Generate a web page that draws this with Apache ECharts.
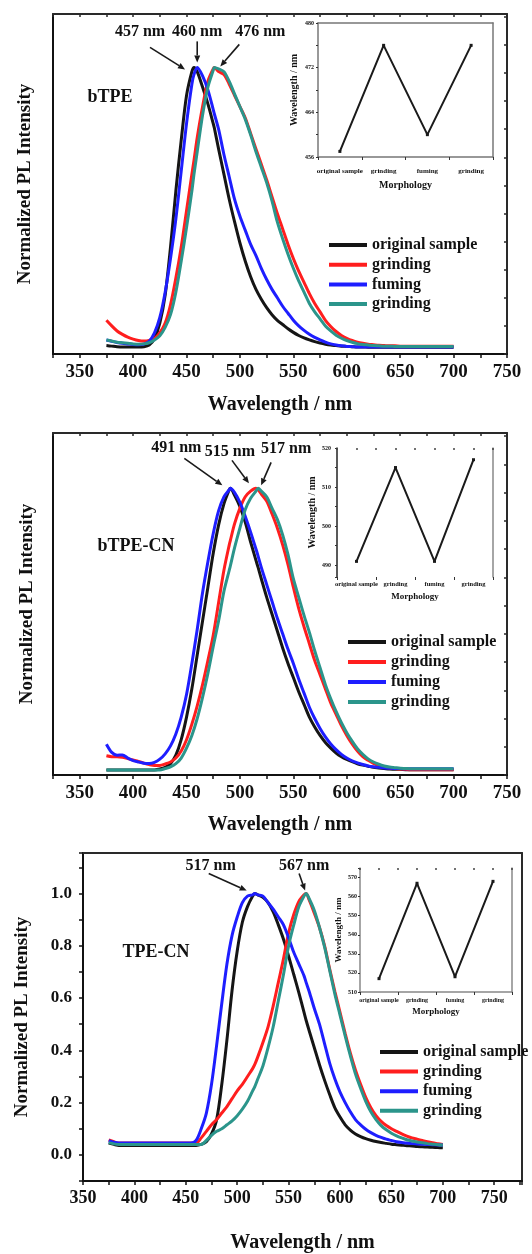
<!DOCTYPE html>
<html>
<head>
<meta charset="utf-8">
<script src="https://cdn.jsdelivr.net/npm/echarts@6/dist/echarts.min.js"></script>
<style>
  html, body { margin: 0; padding: 0; background: #fff; }
  #chart { width: 532px; height: 1254px; }
</style>
</head>
<body>
<div id="chart"></div>
<script>
// ---- Emission spectra (normalized PL intensity) ----
// Wavelength samples (nm); each panel also samples its emission maxima.
const wl1 = [375,380,385,390,395,400,405,410,415,420,425,430,435,440,445,450,455,457,460,465,470,475,476,480,485,490,495,500,505,510,515,520,525,530,535,540,545,550,555,560,565,570,575,580,585,590,595,600,605,610,615,620,625,630,635,640,645,650,655,660,665,670,675,680,685,690,695,700];
const wl2 = [375,380,385,390,395,400,405,410,415,420,425,430,435,440,445,450,455,460,465,470,475,480,485,490,491,495,500,505,510,515,517,520,525,530,535,540,545,550,555,560,565,570,575,580,585,590,595,600,605,610,615,620,625,630,635,640,645,650,655,660,665,670,675,680,685,690,695,700];
const wl3 = [375,380,385,390,395,400,405,410,415,420,425,430,435,440,445,450,455,460,465,470,475,480,485,490,495,500,505,510,515,517,520,525,530,535,540,545,550,555,560,565,567,570,575,580,585,590,595,600,605,610,615,620,625,630,635,640,645,650,655,660,665,670,675,680,685,690,695,700];

// bTPE
const bTPE_original = [.010,.008,.006,.005,.005,.005,.005,.006,.012,.035,.09,.19,.36,.56,.74,.90,.985,
  1.0, .985,.93,.87,.80, .785,
  .71,.62,.53,.45,.375,.31,.255,.21,.175,.145,.12,.10,.085,.07,.057,.046,.037,.030,.024,.019,.015,.012,.010,.008,.007,.006,.005,.005,.004,
  .004,.004,.004,.004,.004,.004,.004,.004,.004,.004,.004,.004,.004,.004,.004,.004];
const bTPE_grinding = [.10,.08,.062,.05,.04,.033,.028,.026,.028,.035,.055,.09,.155,.25,.36,.49,.62,
  .67, .75,.86,.95,.995, 1.0,
  .985,.975,.94,.90,.86,.82,.765,.71,.655,.60,.54,.48,.425,.37,.32,.275,.235,.195,.16,.13,.10,.078,.06,.046,.036,.028,.022,.018,.015,
  .013,.011,.010,.009,.009,.008,.008,.008,.008,.008,.008,.008,.008,.008,.008,.008];
const bTPE_fuming = [.030,.025,.021,.018,.016,.014,.013,.015,.025,.055,.11,.20,.32,.46,.63,.80,.94,
  .975, 1.0,.97,.92,.85, .835,
  .78,.69,.61,.53,.47,.42,.37,.33,.285,.245,.21,.18,.15,.125,.10,.08,.064,.05,.039,.03,.022,.016,.012,.009,.007,.006,.005,.005,.005,
  .005,.005,.005,.005,.005,.005,.005,.005,.005,.005,.005,.005,.005,.005,.005,.005];
const bTPE_regrinding = [.030,.026,.022,.020,.018,.016,.015,.016,.020,.030,.045,.075,.12,.20,.31,.43,.56,
  .62, .70,.83,.93,.99, 1.0,
  .995,.985,.95,.905,.86,.815,.76,.70,.645,.59,.525,.45,.39,.335,.285,.24,.20,.16,.13,.105,.08,.062,.047,.036,.028,.022,.017,.014,.012,
  .010,.009,.008,.008,.007,.007,.007,.007,.007,.007,.007,.007,.007,.007,.007,.007];

// bTPE-CN
const bTPECN_original = [.003,.003,.003,.003,.003,.003,.003,.003,.003,.003,.006,.012,.025,.055,.11,.19,.29,.41,.53,.65,.77,.87,.945,.995,
  1.0, .975,.935,.88,.81,.745, .72,
  .68,.615,.555,.495,.435,.38,.33,.28,.235,.19,.155,.125,.10,.08,.063,.05,.04,.032,.025,.02,.016,.012,.01,.008,.006,.005,.005,
  .004,.004,.004,.004,.004,.004,.004,.004,.004,.004];
const bTPECN_grinding = [.053,.05,.05,.048,.043,.038,.033,.027,.022,.019,.019,.024,.031,.045,.07,.11,.165,.23,.305,.39,.48,.595,.71,.80,
  .815, .875,.93,.97,.99,1.0, .995,
  .98,.955,.91,.86,.80,.73,.65,.575,.51,.45,.39,.34,.29,.24,.20,.16,.125,.095,.07,.05,.037,.026,.018,.013,.01,.008,.006,
  .005,.004,.004,.004,.004,.004,.004,.004,.004,.004];
const bTPECN_fuming = [.094,.065,.055,.056,.045,.036,.031,.027,.026,.03,.041,.06,.088,.13,.19,.27,.38,.50,.63,.74,.84,.92,.97,.995,
  1.0, .985,.95,.90,.845,.785, .76,
  .72,.66,.60,.54,.485,.43,.38,.325,.275,.225,.185,.15,.12,.095,.075,.058,.045,.035,.028,.022,.017,.014,.012,.01,.009,.008,.008,
  .007,.007,.007,.007,.007,.007,.007,.007,.007,.007];
const bTPECN_regrinding = [.003,.003,.003,.003,.003,.003,.003,.003,.003,.003,.003,.008,.014,.025,.045,.08,.125,.185,.26,.345,.44,.53,.635,.71,
  .725, .79,.86,.925,.965,.99, 1.0,
  .99,.97,.93,.89,.835,.765,.68,.615,.55,.49,.425,.365,.305,.255,.21,.17,.135,.105,.078,.058,.042,.031,.023,.017,.013,.011,.009,
  .008,.007,.007,.007,.007,.007,.007,.007,.007,.007];

// TPE-CN
const TPECN_original = [.045,.04,.036,.036,.036,.036,.036,.036,.036,.036,.036,.036,.036,.036,.036,.036,.036,.036,.04,.05,.08,.135,.27,.44,.63,.78,.89,.95,.99,
  1.0,
  .995,.985,.965,.93,.88,.825,.76,.69,.62,.545,
  .515,
  .475,.41,.345,.285,.23,.18,.145,.115,.095,.08,.07,.062,.056,.051,.047,.044,.041,.039,.037,.035,.034,.032,.031,.030,.029,.028,.027];
const TPECN_grinding = [.057,.05,.045,.045,.045,.045,.045,.045,.045,.045,.045,.045,.045,.045,.045,.045,.045,.045,.065,.09,.115,.135,.16,.185,.215,.245,.27,.30,.33,
  .345,
  .375,.43,.49,.57,.66,.75,.85,.92,.97,.995,
  1.0,
  .975,.925,.87,.80,.71,.625,.545,.465,.39,.325,.27,.22,.18,.15,.128,.112,.10,.09,.08,.072,.065,.06,.055,.05,.046,.043,.04];
const TPECN_fuming = [.054,.048,.045,.045,.045,.045,.045,.045,.045,.045,.045,.045,.045,.045,.045,.045,.045,.055,.10,.16,.27,.42,.58,.73,.84,.91,.965,.99,.995,
  1.0,
  .995,.99,.965,.94,.91,.88,.83,.775,.73,.685,
  .66,
  .625,.56,.50,.425,.35,.29,.24,.20,.165,.135,.115,.098,.085,.075,.067,.06,.055,.05,.047,.045,.043,.042,.041,.040,.039,.038,.038];
const TPECN_regrinding = [.047,.042,.04,.04,.04,.04,.04,.04,.04,.04,.04,.04,.04,.04,.04,.04,.04,.04,.04,.055,.075,.09,.10,.115,.13,.15,.175,.205,.245,
  .26,
  .29,.34,.41,.49,.59,.69,.80,.88,.95,.99,
  1.0,
  .98,.935,.87,.795,.705,.615,.535,.455,.38,.31,.255,.205,.165,.135,.112,.096,.083,.073,.065,.058,.053,.049,.046,.043,.041,.039,.038];

// Emission maxima (nm) marked on each panel
const peaks1 = [457, 460, 476];
const peaks2 = [491, 515, 517];
const peaks3 = [517, 567];

// Inset: emission maximum vs. morphology
const morphology = ['original sample', 'grinding', 'fuming', 'grinding'];
const inset1 = [457, 476, 460, 476];
const inset2 = [491, 515, 491, 517];
const inset3 = [517, 567, 518, 568];

// Series labels and panel titles
const seriesNames = ['original sample', 'grinding', 'fuming', 'grinding (2)'];
const panelTitles = ['bTPE', 'bTPE-CN', 'TPE-CN'];

// ---- styling ----
const FONT = '"Liberation Serif", "Times New Roman", serif';
const COLORS = ['#151515', '#ff1e1e', '#1e1eff', '#2b958b'];
const INK = '#111';

const boldText = (size) => ({ fontFamily: FONT, fontWeight: 'bold', fontSize: size, color: INK });

const grids = [
  { left: 53, top: 14, width: 454, height: 340 },   // bTPE spectra
  { left: 318, top: 23, width: 175, height: 134 },  // bTPE inset
  { left: 53, top: 433, width: 454, height: 342 },  // bTPE-CN spectra
  { left: 337, top: 448, width: 156, height: 129 }, // bTPE-CN inset
  { left: 83, top: 853, width: 439, height: 330 },  // TPE-CN spectra
  { left: 360, top: 868, width: 152, height: 124 }  // TPE-CN inset
].map(g => Object.assign({ containLabel: false }, g));

function mainXAxes(gi, min, max, o) {
  return [
    {
      type: 'value', gridIndex: gi, min, max, interval: 25, position: 'bottom',
      axisLine: { onZero: false, lineStyle: { color: INK, width: 2 } },
      axisTick: { length: 4, lineStyle: { color: INK, width: 1.5 } },
      axisLabel: Object.assign({ margin: o.margin, formatter: v => (v % 50 === 0 ? String(v) : '') }, boldText(o.size)),
      splitLine: { show: false },
      name: 'Wavelength / nm', nameLocation: 'middle', nameGap: o.nameGap,
      nameTextStyle: boldText(20)
    },
    {
      type: 'value', gridIndex: gi, min, max, interval: 25, position: 'top',
      axisLine: { onZero: false, lineStyle: { color: '#2a2a2a', width: 2 } },
      axisTick: { show: o.topTicks, inside: true, length: 3, lineStyle: { color: '#2a2a2a', width: 1.5 } },
      axisLabel: { show: false }, splitLine: { show: false }
    }
  ];
}

function mainYAxes(gi, min, max, o) {
  const left = {
    type: 'value', gridIndex: gi, min, max, position: 'left',
    axisLine: { show: true, onZero: false, lineStyle: { color: INK, width: 2 } },
    axisTick: { show: o.labels, length: 4, lineStyle: { color: INK, width: 1.5 } },
    axisLabel: Object.assign({ show: o.labels, margin: 11, formatter: v => {
      const k = Math.round(v * 10);
      return (Math.abs(v * 10 - k) < 1e-6 && k >= 0 && k % 2 === 0) ? (k / 10).toFixed(1) : '';
    } }, boldText(17)),
    splitLine: { show: false },
    name: 'Normalized PL Intensity', nameLocation: 'middle', nameGap: o.nameGap,
    nameTextStyle: boldText(19)
  };
  if (o.labels) left.interval = 0.1;
  const right = {
    type: 'value', gridIndex: gi, min, max, position: 'right', interval: 0.1,
    axisLine: { show: true, onZero: false, lineStyle: { color: '#2a2a2a', width: 2 } },
    axisTick: { show: o.rightTicks, inside: true, length: 3, lineStyle: { color: '#2a2a2a', width: 1.5 } },
    axisLabel: { show: false }, splitLine: { show: false }
  };
  return [left, right];
}

function insetXAxes(gi, o) {
  const bottom = {
    type: 'category', gridIndex: gi, data: morphology, boundaryGap: true,
    axisLine: { show: o.bottomLine, onZero: false, lineStyle: { color: o.frame, width: 1.5 } },
    axisTick: { show: true, length: 3, lineStyle: { color: '#333', width: 1 } },
    axisLabel: Object.assign({ interval: 0, margin: o.margin }, boldText(o.fs)),
    name: 'Morphology', nameLocation: 'middle', nameGap: o.nameGap,
    nameTextStyle: boldText(o.nameFs)
  };
  const top = o.dotted
    ? { type: 'value', gridIndex: gi, position: 'top', min: 0, max: 4, interval: 0.5,
        axisLine: { show: false }, axisTick: { show: true, inside: true, length: 2, lineStyle: { color: '#444', width: 1.5 } },
        axisLabel: { show: false }, splitLine: { show: false } }
    : { type: 'value', gridIndex: gi, position: 'top', min: 0, max: 4,
        axisLine: { show: true, onZero: false, lineStyle: { color: o.frame, width: 1.5 } },
        axisTick: { show: false }, axisLabel: { show: false }, splitLine: { show: false } };
  return [bottom, top];
}

function insetYAxes(gi, min, max, interval, step, o) {
  const left = {
    type: 'value', gridIndex: gi, min, max, position: 'left',
    axisLine: { show: true, onZero: false, lineStyle: { color: o.leftColor, width: 1.5 } },
    axisTick: { show: true, length: 2, lineStyle: { color: '#333', width: 1 } },
    axisLabel: Object.assign({ margin: o.margin, formatter: v => (v % step === 0 ? String(v) : '') }, boldText(6)),
    splitLine: { show: false },
    name: 'Wavelength / nm', nameLocation: 'middle', nameGap: o.nameGap,
    nameTextStyle: boldText(o.nameFs)
  };
  if (interval) left.interval = interval;
  const right = {
    type: 'value', gridIndex: gi, min, max, position: 'right',
    axisLine: { show: true, onZero: false, lineStyle: { color: o.frame, width: 1.5 } },
    axisTick: { show: false }, axisLabel: { show: false }, splitLine: { show: false }
  };
  return [left, right];
}

const xAxis = [
  ...mainXAxes(0, 325, 750, { margin: 9, size: 19, nameGap: 41, topTicks: true }),
  ...insetXAxes(1, { frame: '#777', bottomLine: true, dotted: false, margin: 11, fs: 7, nameGap: 23, nameFs: 10 }),
  ...mainXAxes(2, 325, 750, { margin: 9, size: 19, nameGap: 40, topTicks: true }),
  ...insetXAxes(3, { frame: '#777', bottomLine: false, dotted: true, margin: 4, fs: 6.5, nameGap: 15, nameFs: 9 }),
  ...mainXAxes(4, 350, 777, { margin: 8, size: 18, nameGap: 52, topTicks: false }),
  ...insetXAxes(5, { frame: '#888', bottomLine: true, dotted: true, margin: 5, fs: 6, nameGap: 15, nameFs: 9 })
];

const yAxis = [
  ...mainYAxes(0, -0.02, 1.19, { labels: false, rightTicks: true, nameGap: 18 }),
  ...insetYAxes(1, 456, 480, 4, 8, { leftColor: '#777', frame: '#777', margin: 4, nameGap: 19, nameFs: 10 }),
  ...mainYAxes(2, -0.015, 1.196, { labels: false, rightTicks: true, nameGap: 16 }),
  ...insetYAxes(3, 487, 520, null, 10, { leftColor: '#222', frame: '#888', margin: 6, nameGap: 20, nameFs: 10 }),
  ...mainYAxes(4, -0.1, 1.155, { labels: true, rightTicks: false, nameGap: 51 }),
  ...insetYAxes(5, 510, 575, 10, 10, { leftColor: '#888', frame: '#888', margin: 3, nameGap: 17, nameFs: 9 })
];

const panels = [
  { wl: wl1, curves: [bTPE_original, bTPE_grinding, bTPE_fuming, bTPE_regrinding], inset: inset1 },
  { wl: wl2, curves: [bTPECN_original, bTPECN_grinding, bTPECN_fuming, bTPECN_regrinding], inset: inset2 },
  { wl: wl3, curves: [TPECN_original, TPECN_grinding, TPECN_fuming, TPECN_regrinding], inset: inset3 }
];

const series = [];
panels.forEach((p, k) => {
  p.curves.forEach((ys, i) => {
    series.push({
      type: 'line', name: seriesNames[i],
      xAxisIndex: 4 * k, yAxisIndex: 4 * k,
      data: p.wl.map((x, j) => [x, ys[j]]),
      symbol: 'none', smooth: 0.3,
      lineStyle: { color: COLORS[i], width: 3 },
      itemStyle: { color: COLORS[i] },
      z: 2 + i
    });
  });
  series.push({
    type: 'line', name: 'peak position ' + panelTitles[k],
    xAxisIndex: 4 * k + 2, yAxisIndex: 4 * k + 2,
    data: p.inset.map((v, j) => [j, v]),
    symbol: 'rect', symbolSize: 3,
    lineStyle: { color: '#1a1a1a', width: 2 },
    itemStyle: { color: '#1a1a1a' }, z: 5
  });
});

const legendBase = {
  orient: 'vertical', icon: 'rect', itemWidth: 38, itemHeight: 4, padding: 0,
  selectedMode: false, data: seriesNames,
  formatter: n => n.replace(' (2)', ''),
  textStyle: Object.assign({ lineHeight: 16 }, boldText(16))
};
const legend = [
  Object.assign({}, legendBase, { left: 329, top: 237, itemGap: 3.7 }),
  Object.assign({}, legendBase, { left: 348, top: 634, itemGap: 4 }),
  Object.assign({}, legendBase, { left: 380, top: 1044, itemGap: 3.6 })
];

const chart = echarts.init(document.getElementById('chart'), null, { renderer: 'canvas' });
chart.setOption({
  animation: false,
  backgroundColor: '#fff',
  grid: grids, xAxis, yAxis, series, legend
});

// ---- peak annotations (arrows + labels), anchored to each maximum ----
// offsets in px relative to the maximum: arrow tip, arrow tail, label centre
const arrowLayout = [
  [ { tip: [-9, 2], tail: [-44, -20], label: [-54, -36] },
    { tip: [0, -5], tail: [0, -26], label: [0, -36] },
    { tip: [6, -1], tail: [25, -23], label: [46, -36] } ],
  [ { tip: [-8, -3], tail: [-46, -30], label: [-54, -40] },
    { tip: [-7, -5], tail: [-24, -28], label: [-26, -36] },
    { tip: [3, -3], tail: [13, -26], label: [28, -39] } ],
  [ { tip: [-8, -3], tail: [-46, -20], label: [-44, -28] },
    { tip: [-1, -3], tail: [-7, -20], label: [-2, -28] } ]
];
const titlePos = [[110, 97], [136, 546], [156, 952]];

const graphics = [];
[peaks1, peaks2, peaks3].forEach((pk, k) => {
  pk.forEach((nm, i) => {
    const [px, py] = chart.convertToPixel({ xAxisIndex: 4 * k, yAxisIndex: 4 * k }, [nm, 1]);
    const L = arrowLayout[k][i];
    const tip = [px + L.tip[0], py + L.tip[1]];
    const tail = [px + L.tail[0], py + L.tail[1]];
    const dx = tip[0] - tail[0], dy = tip[1] - tail[1];
    const len = Math.hypot(dx, dy), ux = dx / len, uy = dy / len;
    const hl = 7, hw = 3;
    const base = [tip[0] - ux * hl, tip[1] - uy * hl];
    graphics.push({ type: 'line', z: 50,
      shape: { x1: tail[0], y1: tail[1], x2: base[0], y2: base[1] },
      style: { stroke: '#1a1a1a', lineWidth: 1.6 } });
    graphics.push({ type: 'polygon', z: 50,
      shape: { points: [tip, [base[0] - uy * hw, base[1] + ux * hw], [base[0] + uy * hw, base[1] - ux * hw]] },
      style: { fill: '#1a1a1a' } });
    graphics.push({ type: 'text', z: 50, x: px + L.label[0], y: py + L.label[1],
      style: { text: nm + ' nm', font: 'bold 16px ' + FONT, fill: INK,
               align: 'center', verticalAlign: 'middle', textAlign: 'center', textVerticalAlign: 'middle' } });
  });
  graphics.push({ type: 'text', z: 50, x: titlePos[k][0], y: titlePos[k][1],
    style: { text: panelTitles[k], font: 'bold 18px ' + FONT, fill: INK,
             align: 'center', verticalAlign: 'middle', textAlign: 'center', textVerticalAlign: 'middle' } });
});
chart.setOption({ graphic: graphics });
</script>
</body>
</html>
